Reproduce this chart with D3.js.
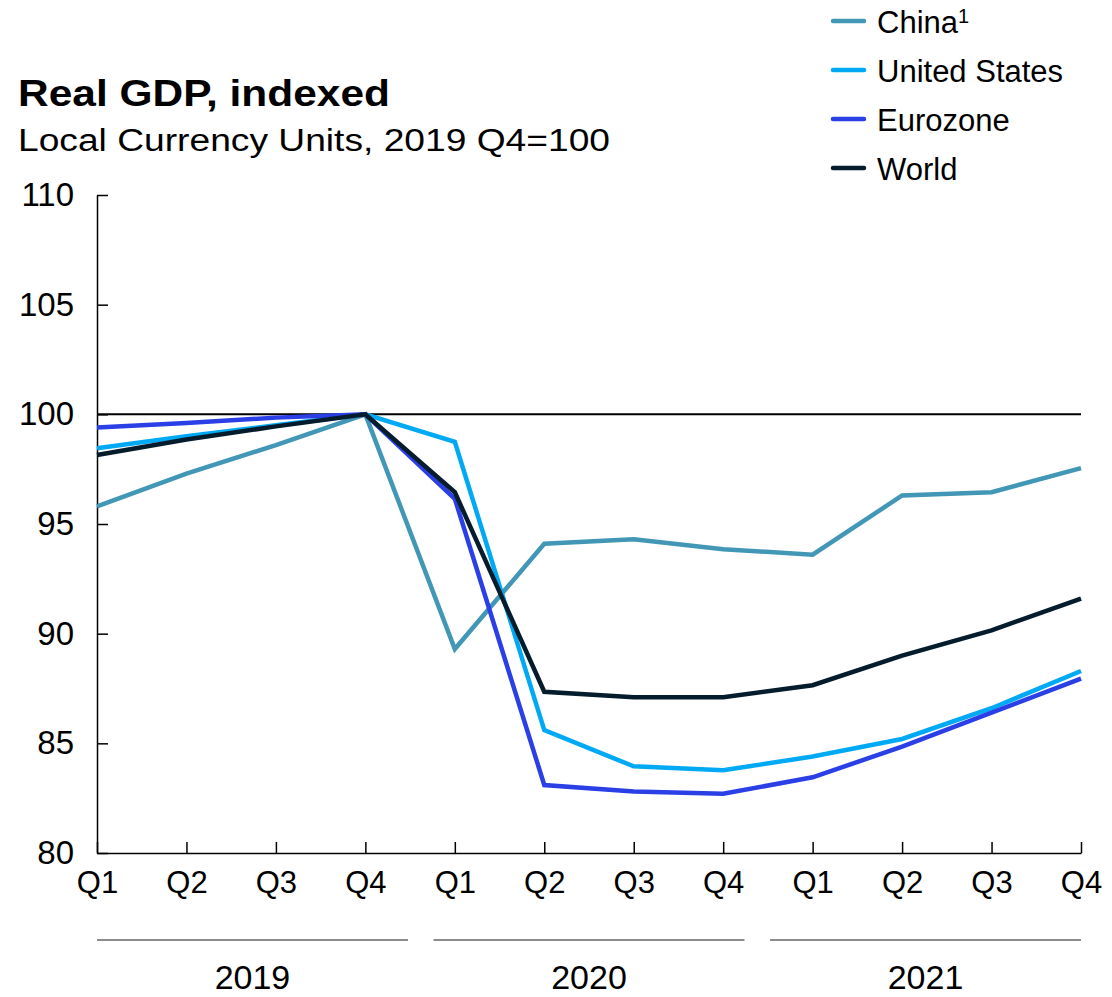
<!DOCTYPE html>
<html>
<head>
<meta charset="utf-8">
<script src="https://cdn.jsdelivr.net/npm/d3@7"></script>
<style>
  body { margin: 0; background: #fff; }
  svg { font-family: "Liberation Sans", Arial, sans-serif; }
</style>
</head>
<body>
<svg id="chart" width="1112" height="997"></svg>
<script>
// quarters along the x axis
var quarters = ["Q1", "Q2", "Q3", "Q4", "Q1", "Q2", "Q3", "Q4", "Q1", "Q2", "Q3", "Q4"];
var years = ["2019", "2020", "2021"];
var yTicks = [80, 85, 90, 95, 100, 105, 110];

// series (2019 Q4 = 100)
var china = [95.8, 97.3, 98.6, 100, 89.3, 94.1, 94.3, 93.85, 93.6, 96.3, 96.45, 97.55];
var unitedStates = [98.45, 99.0, 99.5, 100, 98.75, 85.6, 83.95, 83.77, 84.4, 85.2, 86.6, 88.3];
var eurozone = [99.4, 99.6, 99.85, 100, 96.15, 83.1, 82.8, 82.7, 83.45, 84.85, 86.4, 87.95];
var world = [98.15, 98.85, 99.45, 100, 96.45, 87.35, 87.1, 87.1, 87.65, 89.0, 90.15, 91.6];

var seriesNames = ["China", "United States", "Eurozone", "World"];
var seriesColors = ["#4197b5", "#00a9f4", "#2a3fe6", "#051c2c"];
var seriesValues = [china, unitedStates, eurozone, world];

var svg = d3.select("#chart");

var margins = { top: 195, left: 97, right: 31, bottom: 144 };
var width = 1112 - margins.left - margins.right;
var height = 997 - margins.top - margins.bottom;

var x = d3.scaleLinear().domain([0, quarters.length - 1]).range([0, width]);
var y = d3.scaleLinear().domain([80, 110]).range([height, 0]);
var yearBand = d3.scaleBand().domain(years).range([0, width]).paddingInner(0.076);

var g = svg.append("g").attr("transform", "translate(" + margins.left + "," + margins.top + ")");

// title
svg.append("text")
    .attr("x", 18).attr("y", 106)
    .attr("textLength", 372).attr("lengthAdjust", "spacingAndGlyphs")
    .style("font-size", "36px").style("font-weight", "700")
    .text("Real GDP, indexed");
svg.append("text")
    .attr("x", 18).attr("y", 151)
    .attr("textLength", 592).attr("lengthAdjust", "spacingAndGlyphs")
    .style("font-size", "31px")
    .text("Local Currency Units, 2019 Q4=100");

// y axis
var yAxis = g.append("g")
    .call(d3.axisLeft(y).tickValues(yTicks).tickSize(-11).tickPadding(23).tickSizeOuter(0));
yAxis.select(".domain").attr("stroke", "#000").attr("stroke-width", 1.5);
yAxis.selectAll(".tick line").attr("stroke", "#000").attr("stroke-width", 1.5);
yAxis.selectAll(".tick text")
    .attr("fill", "#000")
    .style("font-size", "33px")
    .style("font-family", "Liberation Sans, Arial, sans-serif");

// x axis
var xAxis = g.append("g")
    .attr("transform", "translate(0," + height + ")")
    .call(d3.axisBottom(x).tickValues(d3.range(quarters.length))
        .tickFormat(function (i) { return quarters[i]; })
        .tickSize(-11).tickPadding(18).tickSizeOuter(0));
xAxis.select(".domain").attr("stroke", "#000").attr("stroke-width", 1.5);
xAxis.selectAll(".tick line").attr("stroke", "#000").attr("stroke-width", 1.5);
xAxis.selectAll(".tick text")
    .attr("fill", "#000")
    .style("font-size", "31px")
    .style("font-family", "Liberation Sans, Arial, sans-serif");

// year brackets under the quarter labels
var yearG = g.selectAll(".year")
    .data(years)
    .enter().append("g")
    .attr("class", "year");
yearG.append("line")
    .attr("x1", function (d) { return yearBand(d); })
    .attr("x2", function (d) { return yearBand(d) + yearBand.bandwidth(); })
    .attr("y1", height + 87).attr("y2", height + 87)
    .attr("stroke", "#666").attr("stroke-width", 1.5);
yearG.append("text")
    .attr("x", function (d) { return yearBand(d) + yearBand.bandwidth() / 2; })
    .attr("y", height + 136)
    .attr("text-anchor", "middle")
    .style("font-size", "34px")
    .text(function (d) { return d; });

// reference line at 100
g.append("line")
    .attr("x1", 0).attr("x2", width)
    .attr("y1", y(100)).attr("y2", y(100))
    .attr("stroke", "#000").attr("stroke-width", 2);

// series lines
var line = d3.line()
    .x(function (d, i) { return x(i); })
    .y(function (d) { return y(d); });

g.selectAll(".series")
    .data(seriesValues)
    .enter().append("path")
    .attr("class", "series")
    .attr("fill", "none")
    .attr("stroke", function (d, i) { return seriesColors[i]; })
    .attr("stroke-width", 4.5)
    .attr("stroke-linejoin", "miter")
    .attr("d", line);

// legend
var legend = svg.selectAll(".legend")
    .data(seriesNames)
    .enter().append("g")
    .attr("class", "legend")
    .attr("transform", function (d, i) { return "translate(833," + (21 + i * 49) + ")"; });
legend.append("line")
    .attr("x1", 0).attr("x2", 31)
    .attr("stroke", function (d, i) { return seriesColors[i]; })
    .attr("stroke-width", 4.5)
    .attr("stroke-linecap", "round");
var legendText = legend.append("text")
    .attr("x", 44).attr("y", 12)
    .style("font-size", "31px");
legendText.append("tspan").text(function (d) { return d; });
legendText.filter(function (d) { return d === "China"; })
    .append("tspan")
    .attr("dy", -10)
    .style("font-size", "20px")
    .text("1");
</script>
</body>
</html>
